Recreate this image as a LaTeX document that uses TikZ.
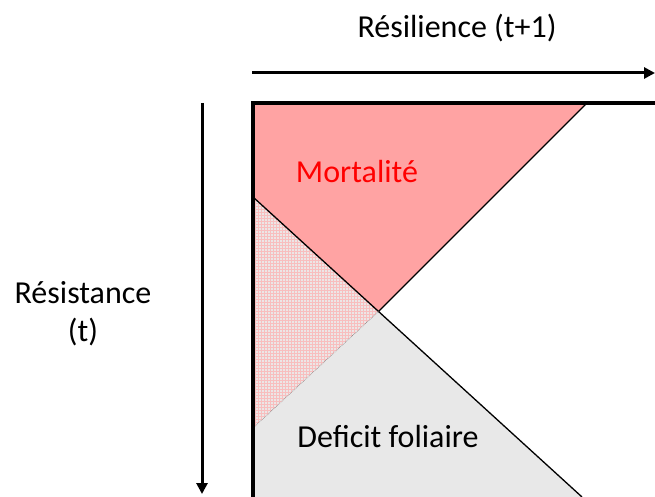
\documentclass[tikz,border=0pt]{standalone}
\usepackage{fontspec}
\setmainfont{Carlito}
\usetikzlibrary{patterns,arrows.meta,calc,intersections}
\definecolor{mortred}{RGB}{255,163,163}
\definecolor{defgrey}{RGB}{232,232,232}
\definecolor{hatchpink}{RGB}{248,190,190}
\definecolor{hatchbase}{RGB}{236,230,230}
\tikzset{
  label/.style={font=\fontsize{32}{38}\selectfont, inner sep=0pt, anchor=center},
  axis/.style={line width=3pt, -{Triangle[length=11pt,width=11pt]}},
  frame/.style={line width=4pt, line cap=rect},
  border/.style={line width=1.3pt}
}
\begin{document}
\begin{tikzpicture}[x=1pt,y=-1pt]
\useasboundingbox (0,0) rectangle (655,497);
% key points
\coordinate (TL) at (253,103);
\coordinate (TR) at (655,103);
\coordinate (BL) at (253,497);
\coordinate (A) at (253,197);
\coordinate (Aend) at (582,497);
\coordinate (B) at (587,103);
\coordinate (C) at (253,428);
\path[name path=la] (A) -- (Aend);
\path[name path=lb] (B) -- ($(B)+(-300,300)$);
\path[name intersections={of=la and lb, by=X}];
% regions
\fill[mortred] (TL) -- (B) -- (X) -- (A) -- cycle;
\fill[defgrey] (X) -- (Aend) -- (BL) -- (C) -- cycle;
\fill[hatchbase] (A) -- (X) -- (C) -- cycle;
\fill[pattern=grid, pattern color=hatchpink] (A) -- (X) -- (C) -- cycle;
% borders
\draw[border] (B) -- (X);
\draw[border] (A) -- (Aend);
\draw[gray, line width=0.6pt, densely dotted] (X) -- (C);
\draw[frame] (TR) -- (TL) -- (BL);
% axes
\coordinate (h0) at (252,73);
\coordinate (h1) at (655,73);
\coordinate (v0) at (202,103);
\coordinate (v1) at (202,494);
\draw[axis] (h0) -- (h1);
\draw[axis] (v0) -- (v1);
% labels
\node[label] (res) at (457,28) {Résilience (t+1)};
\node[label, align=center] (rst) at (83,314) {Résistance\\(t)};
\node[label, text=red] (mort) at (357,172) {Mortalité};
\node[label] (def) at (388,437) {Deficit foliaire};
\end{tikzpicture}
\end{document}
